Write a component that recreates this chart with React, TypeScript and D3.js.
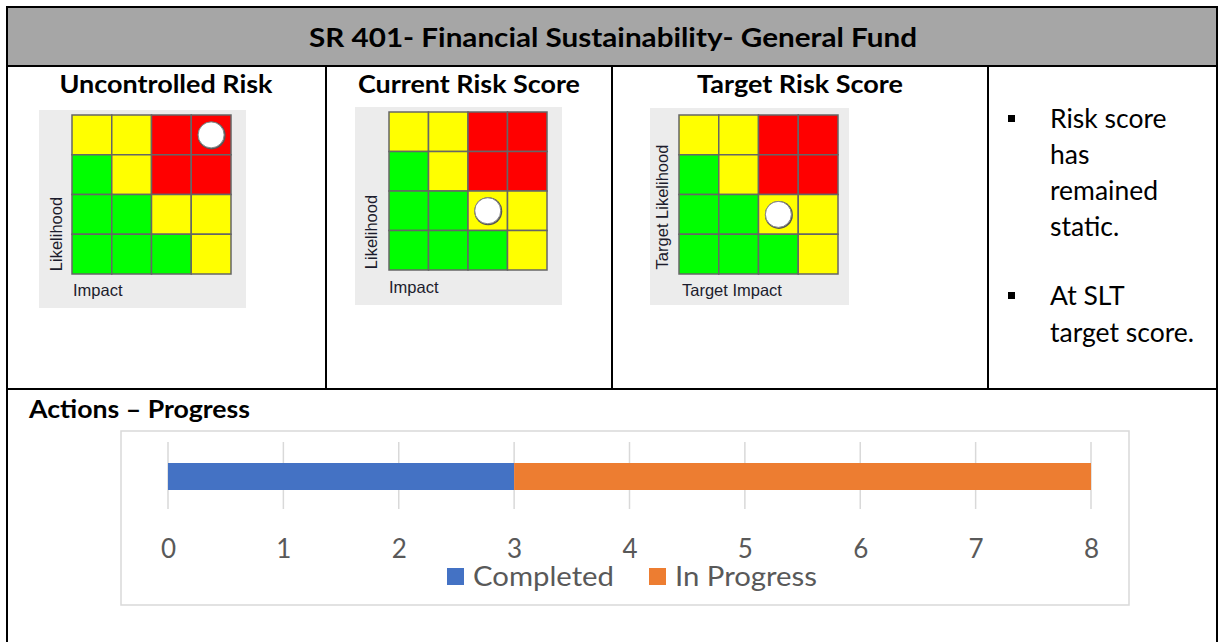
import { useEffect, useRef } from "react";
import * as d3 from "d3";

// risk matrix ratings, rows top (high likelihood) to bottom, cols left (low impact) to right
const matrixRows = [
  ["Y", "Y", "R", "R"],
  ["G", "Y", "R", "R"],
  ["G", "G", "Y", "Y"],
  ["G", "G", "G", "Y"],
];

const matrixTitles = ["Uncontrolled Risk", "Current Risk Score", "Target Risk Score"];
const xAxisLabels = ["Impact", "Impact", "Target Impact"];
const yAxisLabels = ["Likelihood", "Likelihood", "Target Likelihood"];
// marker cell [row, col]
const markerRows = [0, 2, 2];
const markerCols = [3, 2, 2];

const commentLines = [["Risk score", "has", "remained", "static."], ["At SLT", "target score."]];

const progressSeries = ["Completed", "In Progress"];
const progressValues = [3, 5];
const tickValues = [0, 1, 2, 3, 4, 5, 6, 7, 8];

const W = 1219;
const H = 642;
const FONT = "Lato, 'Open Sans', sans-serif";
const ratingColor: Record<string, string> = { Y: "#ffff00", R: "#ff0000", G: "#00ff00" };
const seriesColor = ["#4472c4", "#ed7d31"];

// panel/grid layout for each of the three matrices
const panels = [
  { px: 39, py: 110, pw: 207, ph: 198, gx: 72, gy: 115, gs: 159, ylx: 56, yly: 234, xlx: 73, xly: 296 },
  { px: 355, py: 107, pw: 207, ph: 198, gx: 389, gy: 112, gs: 158, ylx: 371, yly: 232, xlx: 389, xly: 293 },
  { px: 650, py: 108, pw: 199, ph: 197, gx: 679, gy: 115, gs: 159, ylx: 662, yly: 207, xlx: 682, xly: 296 },
];
const colCenters = [166, 469, 800];
const titleWidths = [213, 222, 206];

const App = () => {
  const ref = useRef<SVGSVGElement | null>(null);

  useEffect(() => {
    if (!ref.current) return;
    const svg = d3.select(ref.current);
    svg.selectAll("*").remove();

    svg.append("rect").attr("width", W).attr("height", H).attr("fill", "#fff");

    // header band
    svg.append("rect").attr("x", 7).attr("y", 8).attr("width", 1210).attr("height", 58).attr("fill", "#a6a6a6");
    svg
      .append("text")
      .attr("x", 309)
      .attr("y", 47)
      .attr("font-family", FONT)
      .attr("font-weight", 700)
      .attr("font-size", 27)
      .attr("textLength", 608)
      .attr("lengthAdjust", "spacingAndGlyphs")
      .attr("fill", "#000")
      .text("SR 401- Financial Sustainability- General Fund");

    // table lines
    const lines: [number, number, number, number][] = [
      [6, 7, 1218, 7],
      [6, 66, 1218, 66],
      [6, 389, 1218, 389],
      [7, 7, 7, 642],
      [1217, 7, 1217, 642],
      [326, 66, 326, 389],
      [612, 66, 612, 389],
      [988, 66, 988, 389],
    ];
    svg
      .append("g")
      .selectAll("line")
      .data(lines)
      .join("line")
      .attr("x1", d => d[0])
      .attr("y1", d => d[1])
      .attr("x2", d => d[2])
      .attr("y2", d => d[3])
      .attr("stroke", "#000")
      .attr("stroke-width", 2);

    // column titles
    svg
      .append("g")
      .selectAll("text")
      .data(matrixTitles)
      .join("text")
      .attr("x", (_, i) => colCenters[i] - titleWidths[i] / 2)
      .attr("y", 93)
      .attr("font-family", FONT)
      .attr("font-weight", 700)
      .attr("font-size", 25)
      .attr("textLength", (_, i) => titleWidths[i])
      .attr("lengthAdjust", "spacingAndGlyphs")
      .text(d => d);

    // risk matrices
    panels.forEach((p, k) => {
      const g = svg.append("g");
      g.append("rect").attr("x", p.px).attr("y", p.py).attr("width", p.pw).attr("height", p.ph).attr("fill", "#ececec");

      const x = d3.scaleBand<number>().domain([0, 1, 2, 3]).range([p.gx, p.gx + p.gs]);
      const y = d3.scaleBand<number>().domain([0, 1, 2, 3]).range([p.gy, p.gy + p.gs]);

      const cells = matrixRows.flatMap((row, r) => row.map((v, c) => ({ r, c, v })));
      g.selectAll("rect.cell")
        .data(cells)
        .join("rect")
        .attr("class", "cell")
        .attr("x", d => x(d.c)!)
        .attr("y", d => y(d.r)!)
        .attr("width", x.bandwidth())
        .attr("height", y.bandwidth())
        .attr("fill", d => ratingColor[d.v])
        .attr("stroke", "#666")
        .attr("stroke-width", 1.5);

      const cx = x(markerCols[k])! + x.bandwidth() / 2;
      const cy = y(markerRows[k])! + y.bandwidth() / 2;
      g.append("circle").attr("cx", cx + 0.5).attr("cy", cy + 0.5).attr("r", 14).attr("fill", "#555");
      g.append("circle").attr("cx", cx).attr("cy", cy).attr("r", 13).attr("fill", "#fff").attr("stroke", "#888").attr("stroke-width", 1);

      g.append("text")
        .attr("transform", `translate(${p.ylx},${p.yly}) rotate(-90)`)
        .attr("text-anchor", "middle")
        .attr("dy", "0.35em")
        .attr("font-family", "'Liberation Sans', Arial, sans-serif")
        .attr("font-size", 16.5)
        .attr("fill", "#1c1c2c")
        .text(yAxisLabels[k]);

      g.append("text")
        .attr("x", p.xlx)
        .attr("y", p.xly)
        .attr("font-family", "'Liberation Sans', Arial, sans-serif")
        .attr("font-size", 16.5)
        .attr("fill", "#1c1c2c")
        .text(xAxisLabels[k]);
    });

    // comment bullets
    const cg = svg.append("g").attr("font-family", FONT).attr("font-size", 26.5).attr("fill", "#000");
    const baselines = [[128, 164, 200, 236], [305, 342]];
    commentLines.forEach((para, i) => {
      cg.append("rect").attr("x", 1008).attr("y", baselines[i][0] - 13).attr("width", 7).attr("height", 7).attr("fill", "#000");
      para.forEach((line, j) => {
        cg.append("text").attr("x", 1050).attr("y", baselines[i][j]).text(line);
      });
    });

    // actions progress
    svg
      .append("text")
      .attr("x", 29)
      .attr("y", 418)
      .attr("font-family", FONT)
      .attr("font-weight", 700)
      .attr("font-size", 25)
      .attr("textLength", 221)
      .attr("lengthAdjust", "spacingAndGlyphs")
      .text("Actions – Progress");

    svg
      .append("rect")
      .attr("x", 121)
      .attr("y", 431)
      .attr("width", 1008)
      .attr("height", 174)
      .attr("fill", "#fff")
      .attr("stroke", "#d9d9d9")
      .attr("stroke-width", 1.5);

    const xs = d3.scaleLinear().domain([0, 8]).range([168, 1091]);

    const grid = svg.append("g");
    grid
      .selectAll("line")
      .data(tickValues)
      .join("line")
      .attr("x1", d => xs(d))
      .attr("x2", d => xs(d))
      .attr("y1", 442)
      .attr("y2", 509)
      .attr("stroke", "#d9d9d9")
      .attr("stroke-width", 1.5);

    const row = { key: "Actions", ...Object.fromEntries(progressSeries.map((s, i) => [s, progressValues[i]])) } as Record<string, any>;
    const stacked = d3.stack<Record<string, any>>().keys(progressSeries)([row]);
    svg
      .append("g")
      .selectAll("rect")
      .data(stacked)
      .join("rect")
      .attr("x", d => xs(d[0][0]))
      .attr("width", d => xs(d[0][1]) - xs(d[0][0]))
      .attr("y", 463)
      .attr("height", 27)
      .attr("fill", (_, i) => seriesColor[i]);

    const axis = d3.axisBottom(xs).tickValues(tickValues).tickSize(0).tickPadding(0).tickFormat(d3.format("d"));
    const ax = svg.append("g").attr("transform", "translate(0,540)").call(axis);
    ax.select(".domain").remove();
    ax.selectAll("text")
      .attr("dy", "0.71em")
      .attr("font-family", FONT)
      .attr("font-weight", 400)
      .attr("font-size", 26)
      .attr("fill", "#595959");

    // legend
    const legendX = [447, 649];
    const legendW = [141, 142];
    const lg = svg.append("g");
    progressSeries.forEach((s, i) => {
      lg.append("rect").attr("x", legendX[i]).attr("y", 568).attr("width", 17).attr("height", 17).attr("fill", seriesColor[i]);
      lg.append("text")
        .attr("x", legendX[i] + 26)
        .attr("y", 586)
        .attr("font-family", FONT)
        .attr("font-weight", 400)
        .attr("font-size", 26)
        .attr("textLength", legendW[i])
        .attr("lengthAdjust", "spacingAndGlyphs")
        .attr("fill", "#595959")
        .text(s);
    });
  }, []);

  return (
    <div style={{ position: "absolute", left: 0, top: 0, width: W, height: H }}>
      <svg ref={ref} width={W} height={H} style={{ display: "block" }} />
    </div>
  );
};

export default App;
